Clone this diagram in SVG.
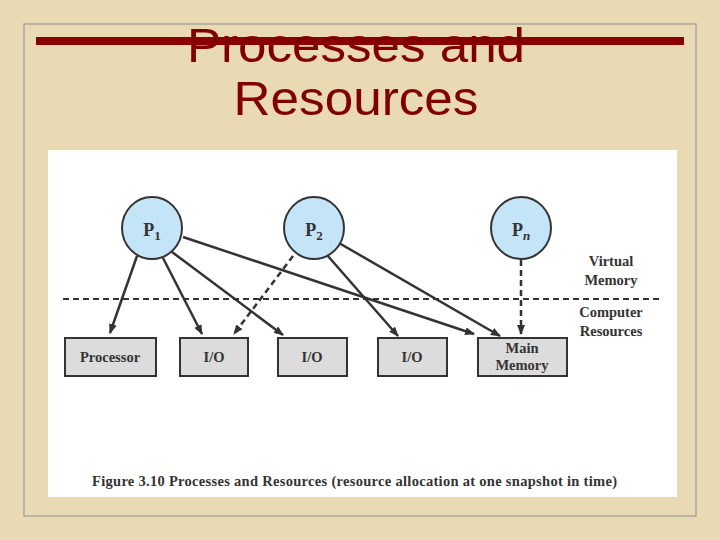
<svg xmlns="http://www.w3.org/2000/svg" width="720" height="540" viewBox="0 0 720 540">
<defs>
<marker id="ah" markerWidth="10" markerHeight="8" refX="9" refY="4" orient="auto" markerUnits="userSpaceOnUse"><path d="M0,0 L10,4 L0,8 z" fill="#333"/></marker>
<style>
.t{font-family:"Liberation Serif",serif;font-weight:bold;font-size:14.5px;fill:#333;text-anchor:middle}
.c{fill:#c4e5f8;stroke:#333;stroke-width:2}
.b{fill:#dcdcdc;stroke:#333;stroke-width:2}
.a{stroke:#333;stroke-width:2.5;fill:none;marker-end:url(#ah)}
.d{stroke-dasharray:6,4}
.h{font-family:"Liberation Sans",sans-serif;font-size:48px;fill:#800000;text-anchor:middle}
</style>
</defs>
<rect width="720" height="540" fill="#e9dab3"/>
<rect x="24" y="24" width="672" height="492" fill="none" stroke="#a8a8a0" stroke-width="1.5"/>
<rect x="36" y="37" width="648" height="8" fill="#8b0000"/>
<text class="h" x="356" y="62" textLength="338" lengthAdjust="spacingAndGlyphs">Processes and</text>
<text class="h" x="356" y="115" textLength="245" lengthAdjust="spacingAndGlyphs">Resources</text>
<rect x="48" y="150" width="629" height="347" fill="#fff"/>
<line x1="63" y1="299" x2="660" y2="299" stroke="#333" stroke-width="2" stroke-dasharray="6,4"/>
<g id="connectors">
<line class="a" x1="137" y1="256" x2="110" y2="333"/>
<line class="a" x1="163" y1="258" x2="202" y2="334"/>
<line class="a" x1="172" y1="252" x2="283" y2="335"/>
<line class="a" x1="183" y1="237" x2="474" y2="334"/>
<line class="a d" x1="293" y1="256" x2="234" y2="334"/>
<line class="a" x1="327" y1="255" x2="398" y2="336"/>
<line class="a" x1="339" y1="243" x2="500" y2="336"/>
<line class="a d" x1="521" y1="260" x2="521" y2="334"/>
</g>
<g id="p1"><ellipse class="c" cx="152" cy="228" rx="30" ry="31"/><text class="t" x="152" y="236" style="font-size:18px">P<tspan font-size="13" dy="4">1</tspan></text></g>
<g id="p2"><ellipse class="c" cx="314" cy="228" rx="30" ry="31"/><text class="t" x="314" y="236" style="font-size:18px">P<tspan font-size="13" dy="4">2</tspan></text></g>
<g id="pn"><ellipse class="c" cx="521" cy="228" rx="30" ry="31"/><text class="t" x="521" y="236" style="font-size:18px">P<tspan font-size="13" dy="4" font-style="italic">n</tspan></text></g>
<g id="processor"><rect class="b" x="65" y="338" width="91" height="38"/><text class="t" x="110" y="362">Processor</text></g>
<g id="io1"><rect class="b" x="180" y="338" width="68" height="38"/><text class="t" x="214" y="362">I/O</text></g>
<g id="io2"><rect class="b" x="278" y="338" width="69" height="38"/><text class="t" x="312" y="362">I/O</text></g>
<g id="io3"><rect class="b" x="378" y="338" width="69" height="38"/><text class="t" x="412" y="362">I/O</text></g>
<g id="mem"><rect class="b" x="478" y="338" width="89" height="38"/><text class="t" x="522" y="353">Main</text><text class="t" x="522" y="370">Memory</text></g>
<text class="t" x="611" y="266">Virtual</text>
<text class="t" x="611" y="285">Memory</text>
<text class="t" x="611" y="317">Computer</text>
<text class="t" x="611" y="336">Resources</text>
<text class="t" x="92" y="486" style="text-anchor:start" textLength="525">Figure 3.10  Processes and Resources (resource allocation at one snapshot in time)</text>
</svg>
